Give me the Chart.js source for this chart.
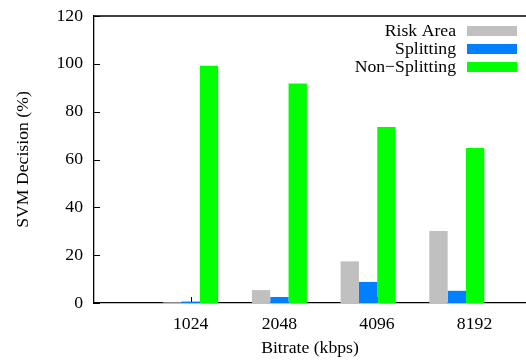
<!DOCTYPE html>
<html>
<head>
<meta charset="utf-8">
<script src="https://cdn.jsdelivr.net/npm/chart.js@4.4.1/dist/chart.umd.min.js"></script>
<style>
  html, body { margin: 0; padding: 0; background: #fff; }
  #wrap { width: 526px; height: 363px; }
</style>
</head>
<body>
<div id="wrap"><canvas id="myChart"></canvas></div>
<script>
// Dados do gráfico
var bitrates = ['1024', '2048', '4096', '8192'];
var tickPos = [0, 1, 2.1, 3.2];   // onde o gnuplot colocou os rótulos
var riskArea = [0.3, 5.4, 17.4, 30.1];
var splitting = [0.6, 2.5, 8.8, 5.1];
var nonSplitting = [99.2, 91.8, 73.6, 64.8];
var yTicks = [0, 20, 40, 60, 80, 100, 120];

var serif = "'Liberation Serif', 'DejaVu Serif', serif";
var fontSize = 17.7;
Chart.defaults.font.family = serif;
Chart.defaults.font.size = fontSize;
Chart.defaults.color = '#000';

function toPoints(values) {
    return values.map(function(v, i) { return { x: i, y: v }; });
}

// Ticks para dentro, borda de cima e legenda no canto
var gnuplotLook = {
    id: 'gnuplotLook',
    beforeDatasetsDraw: function(chart) {
        var ctx = chart.ctx, area = chart.chartArea;
        var x = chart.scales.x, y = chart.scales.y;
        ctx.save();
        ctx.strokeStyle = '#000';
        ctx.lineWidth = 1;
        y.ticks.forEach(function(t) {
            var py = Math.round(y.getPixelForValue(t.value)) + 0.5;
            ctx.beginPath();
            ctx.moveTo(area.left, py);
            ctx.lineTo(area.left + 6, py);
            ctx.stroke();
        });
        x.ticks.forEach(function(t) {
            var px = Math.round(x.getPixelForValue(t.value)) + 0.5;
            ctx.beginPath();
            ctx.moveTo(px, area.bottom);
            ctx.lineTo(px, area.bottom - 6);
            ctx.stroke();
        });
        ctx.restore();
    },
    afterDraw: function(chart) {
        var ctx = chart.ctx, area = chart.chartArea;
        ctx.save();
        ctx.strokeStyle = '#000';
        ctx.lineWidth = 1.3;
        ctx.beginPath();
        ctx.moveTo(area.left, area.top);
        ctx.lineTo(chart.width, area.top);
        ctx.stroke();

        ctx.font = fontSize + 'px ' + serif;
        ctx.textAlign = 'right';
        ctx.textBaseline = 'middle';
        chart.data.datasets.forEach(function(ds, i) {
            var cy = area.top + 15 + i * 18;
            ctx.fillStyle = '#000';
            ctx.fillText(ds.label, chart.width - 70, cy);
            ctx.fillStyle = ds.backgroundColor;
            ctx.fillRect(chart.width - 59, cy - 5, 50, 10);
        });
        ctx.restore();
    }
};

var ctx = document.getElementById('myChart').getContext('2d');
var chart = new Chart(ctx, {
    type: 'bar',
    data: {
        datasets: [
            {
                label: 'Risk Area',
                data: toPoints(riskArea),
                backgroundColor: '#c0c0c0'
            },
            {
                label: 'Splitting',
                data: toPoints(splitting),
                backgroundColor: '#0080ff'
            },
            {
                label: 'Non\u2212Splitting',
                data: toPoints(nonSplitting),
                backgroundColor: '#00ff00'
            }
        ]
    },
    options: {
        responsive: true,
        maintainAspectRatio: false,
        animation: false,
        layout: { padding: { top: 16, left: 0, right: 0, bottom: 0 } },
        datasets: {
            bar: { categoryPercentage: 0.62, barPercentage: 1.0, grouped: true }
        },
        scales: {
            x: {
                type: 'linear',
                offset: false,
                bounds: 'data',
                min: -1.09,
                max: 3.78,
                grid: { display: false },
                border: { display: true, color: '#000', width: 1.3 },
                afterBuildTicks: function(scale) {
                    scale.ticks = tickPos.map(function(v) { return { value: v }; });
                },
                afterFit: function(scale) {
                    scale.height = 60;
                    scale.paddingLeft = 0;
                    scale.paddingRight = 0;
                },
                ticks: {
                    autoSkip: false,
                    maxRotation: 0,
                    padding: 3,
                    callback: function(value, index) { return bitrates[index]; }
                },
                title: { display: true, text: 'Bitrate (kbps)', padding: { top: 1, bottom: 4 } }
            },
            y: {
                min: 0,
                max: 120,
                grid: { display: false },
                border: { display: true, color: '#000', width: 1.3 },
                afterBuildTicks: function(scale) {
                    scale.ticks = yTicks.map(function(v) { return { value: v }; });
                },
                afterFit: function(scale) {
                    scale.width = 94;
                    scale.paddingTop = 0;
                    scale.paddingBottom = 0;
                },
                ticks: { padding: 3 },
                title: { display: true, text: 'SVM Decision (%)', padding: { top: 13, bottom: 0 } }
            }
        },
        plugins: {
            legend: { display: false },
            tooltip: { enabled: false }
        }
    },
    plugins: [gnuplotLook]
});
</script>
</body>
</html>
